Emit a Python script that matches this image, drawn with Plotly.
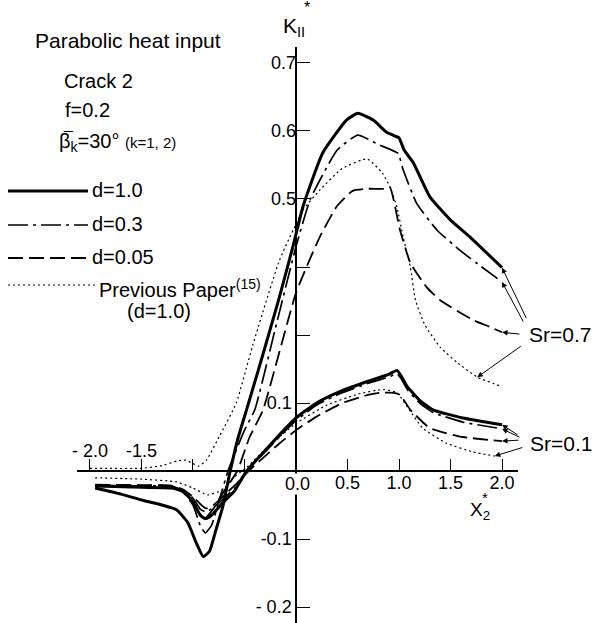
import plotly.graph_objects as go

# ---------------- data ----------------
# Sr = 0.7 family (plotted on the upper, offset scale: labels 0.5/0.6/0.7)
s07_solid_x = [-1.95, -1.7, -1.49, -1.3, -1.16, -1.05, -0.97, -0.9, -0.84, -0.78, -0.71, -0.64, -0.56, -0.47,
               -0.32, -0.17, -0.03, 0.07, 0.26, 0.49, 0.6, 0.75, 0.88, 0.97, 1.0, 1.05, 1.14, 1.3, 1.5, 1.69, 2.0]
s07_solid_y = [0.075, 0.066, 0.057, 0.05, 0.043, 0.024, -0.005, -0.026, -0.018, 0.012, 0.048, 0.099, 0.15, 0.195,
               0.272, 0.351, 0.43, 0.49, 0.568, 0.616, 0.626, 0.616, 0.598, 0.592, 0.59, 0.572, 0.553, 0.503, 0.469, 0.444, 0.399]

s07_dd_x = [-1.95, -1.5, -1.2, -1.1, -1.0, -0.93, -0.88, -0.82, -0.74, -0.66, -0.5, -0.4, -0.2, 0.0, 0.14, 0.4,
            0.6, 0.8, 0.99, 1.04, 1.17, 1.37, 1.62, 2.0]
s07_dd_y = [0.078, 0.078, 0.077, 0.07, 0.05, 0.02, 0.009, 0.02, 0.06, 0.1, 0.16, 0.19, 0.31, 0.43, 0.5, 0.572,
            0.594, 0.58, 0.567, 0.543, 0.494, 0.454, 0.421, 0.378]

s07_dash_x = [-1.95, -1.5, -1.2, -1.05, -0.95, -0.88, -0.8, -0.7, -0.57, -0.45, -0.32, 0.0, 0.23, 0.4, 0.55,
              0.7, 0.85, 0.91, 1.01, 1.11, 1.27, 1.4, 1.72, 1.88, 2.0]
s07_dash_y = [0.079, 0.079, 0.078, 0.065, 0.04, 0.031, 0.045, 0.07, 0.1, 0.15, 0.19, 0.362, 0.444, 0.49, 0.512,
              0.515, 0.515, 0.518, 0.454, 0.406, 0.37, 0.351, 0.322, 0.312, 0.304]

s07_prev_x = [-2.0, -1.5, -1.3, -1.15, -1.07, -1.0, -0.95, -0.87, -0.74, -0.58, -0.42, -0.16, 0.07, 0.23, 0.45,
              0.69, 0.84, 0.91, 0.98, 1.04, 1.11, 1.16, 1.25, 1.4, 1.56, 1.76, 2.0]
s07_prev_y = [0.104, 0.104, 0.108, 0.115, 0.116, 0.111, 0.107, 0.116, 0.152, 0.2, 0.285, 0.41, 0.484, 0.513, 0.545,
              0.559, 0.538, 0.518, 0.488, 0.444, 0.4, 0.351, 0.315, 0.282, 0.26, 0.238, 0.224]

# Sr = 0.1 family (lower scale)
s01_solid_x = [-1.95, -1.5, -1.2, -1.1, -1.0, -0.93, -0.88, -0.82, -0.7, -0.6, -0.48, -0.3, -0.15, 0.0, 0.2,
               0.43, 0.7, 0.9, 0.98, 1.02, 1.08, 1.2, 1.33, 1.62, 2.0]
s01_solid_y = [-0.022, -0.024, -0.025, -0.03, -0.045, -0.065, -0.07, -0.065, -0.045, -0.03, 0.0, 0.03, 0.055,
               0.078, 0.1, 0.117, 0.132, 0.142, 0.148, 0.14, 0.124, 0.104, 0.09, 0.078, 0.068]

s01_dd_x = [-1.95, -1.5, -1.2, -1.1, -1.0, -0.93, -0.88, -0.82, -0.7, -0.6, -0.48, -0.3, -0.15, 0.0, 0.2,
            0.43, 0.7, 0.9, 0.98, 1.02, 1.08, 1.2, 1.33, 1.62, 2.0]
s01_dd_y = [-0.021, -0.022, -0.023, -0.028, -0.04, -0.056, -0.06, -0.056, -0.04, -0.026, 0.0, 0.028, 0.052,
            0.074, 0.097, 0.114, 0.129, 0.138, 0.143, 0.136, 0.12, 0.1, 0.086, 0.072, 0.062]

s01_dash_x = [-1.95, -1.5, -1.2, -1.1, -1.0, -0.92, -0.87, -0.8, -0.7, -0.6, -0.46, -0.3, -0.15, 0.0, 0.2,
              0.45, 0.7, 0.82, 0.95, 1.01, 1.11, 1.3, 1.62, 2.0]
s01_dash_y = [-0.02, -0.021, -0.022, -0.027, -0.038, -0.05, -0.055, -0.05, -0.036, -0.022, 0.0, 0.022, 0.042,
              0.06, 0.08, 0.1, 0.112, 0.115, 0.115, 0.112, 0.09, 0.063, 0.05, 0.044]

s01_prev_x = [-1.95, -1.5, -1.16, -1.0, -0.86, -0.71, -0.61, -0.48, -0.3, 0.0, 0.3, 0.6, 0.85, 0.98, 1.1,
              1.23, 1.46, 1.72, 1.93]
s01_prev_y = [-0.01, -0.012, -0.016, -0.025, -0.035, -0.028, -0.01, 0.005, 0.032, 0.07, 0.097, 0.113, 0.12,
              0.115, 0.09, 0.063, 0.041, 0.028, 0.022]

x_bottom_ticks = [0.5, 1.0, 1.5, 2.0]
x_bottom_labels = ["0.5", "1.0", "1.5", "2.0"]
x_top_ticks = [-2.0, -1.5, -1.0, -0.5, 0.5, 1.0, 1.5, 2.0]
x_top_labels = ["- 2.0", "-1.5", "", "", "", "", "", ""]
y_low_ticks = [-0.2, -0.1, 0.1]
y_low_labels = ["- 0.2", "-0.1", "0.1"]
y_up_ticks = [0.3, 0.4, 0.5, 0.6, 0.7]
y_up_labels = ["", "", "0.5", "0.6", "0.7"]

# ---------------- layout geometry ----------------
W, H = 593, 623
ML, MR, MT, MB = 77, 75, 47, 0
PW, PH = W - ML - MR, H - MT - MB
X_RANGE = [-2.126, 2.155]
Y_RANGE = [-0.2235, 0.6235]
Y2_OFFSET = 0.1
Y2_RANGE = [Y_RANGE[0] + Y2_OFFSET, Y_RANGE[1] + Y2_OFFSET]
FONT = "Liberation Sans"


def pxx(p):
    return (p - ML) / PW


def pxy(p):
    return (H - MB - p) / PH


x_pos = (0 - Y_RANGE[0]) / (Y_RANGE[1] - Y_RANGE[0])
y_pos = (0 - X_RANGE[0]) / (X_RANGE[1] - X_RANGE[0])

SOLID = dict(color="black", width=3)
DASHDOT = dict(color="black", width=1.7, dash="20px,5px,3px,5px")
DASHED = dict(color="black", width=1.8, dash="15px,6px")
DOTTED = dict(color="black", width=1.2, dash="2px,3px")

fig = go.Figure()
series = [
    (s07_solid_x, s07_solid_y, SOLID, "y2"),
    (s07_dd_x, s07_dd_y, DASHDOT, "y2"),
    (s07_dash_x, s07_dash_y, DASHED, "y2"),
    (s07_prev_x, s07_prev_y, DOTTED, "y2"),
    (s01_solid_x, s01_solid_y, SOLID, "y"),
    (s01_dd_x, s01_dd_y, DASHDOT, "y"),
    (s01_dash_x, s01_dash_y, DASHED, "y"),
    (s01_prev_x, s01_prev_y, DOTTED, "y"),
]
for xs, ys, ln, ya in series:
    fig.add_trace(go.Scatter(x=xs, y=ys, mode="lines", line=dict(shape="spline", smoothing=0.45, **ln),
                             yaxis=ya, xaxis="x", showlegend=False, hoverinfo="skip"))

annotations = []


def text(t, xp, yp, size=20, xanchor="left", **kw):
    annotations.append(dict(text=t, x=pxx(xp), y=pxy(yp), xref="paper", yref="paper", showarrow=False,
                            xanchor=xanchor, yanchor="middle", font=dict(size=size, color="black", family=FONT), **kw))


text("Parabolic heat input", 33, 41, 21)
text("Crack 2", 62, 81)
text("f=0.2", 63, 110)
text("β<sub>k</sub>=30° <span style='font-size:15px'>(k=1, 2)</span>", 57, 143)
text("\u00af", 61, 138, 16)
text("d=1.0", 90, 190)
text("d=0.3", 90, 224)
text("d=0.05", 90, 257)
text("Previous Paper<sup>(15)</sup>", 97, 288)
text("(d=1.0)", 125, 311)
text("K<sub>II</sub>", 281, 27, 21)
text("*", 302, 7, 16)
text("X<sub>2</sub>", 468, 511, 19)
text("*", 480, 497, 15)
text("0.0", 297, 484, 18, xanchor="center", bgcolor="white", borderpad=0)
text("Sr=0.7", 527, 334, 21)
text("Sr=0.1", 528, 443, 21)

arrows = [
    (2.0, s07_solid_y[-1], "y2", 25, 52),
    (2.0, s07_dd_y[-1], "y2", 22, 41),
    (2.0, s07_dash_y[-1], "y2", 19, 2),
    (1.76, 0.238, "y2", 45, -32),
    (2.0, s01_solid_y[-1], "y", 17, 11),
    (2.0, s01_dd_y[-1], "y", 19, 9),
    (2.0, s01_dash_y[-1], "y", 18, -1),
    (1.93, s01_prev_y[-1], "y", 29, -9),
]
for xa, ya_, yr, ax, ay in arrows:
    annotations.append(dict(x=xa, y=ya_, xref="x", yref=yr, ax=ax, ay=ay, text="", showarrow=True,
                            arrowhead=2, arrowsize=1.1, arrowwidth=1, arrowcolor="black", standoff=0))

shapes = []
for yp, ln, x1 in [(191, SOLID, 88), (225, DASHDOT, 88), (258, DASHED, 88), (285, DOTTED, 95)]:
    shapes.append(dict(type="line", xref="paper", yref="paper", x0=pxx(8), x1=pxx(x1), y0=pxy(yp), y1=pxy(yp),
                       line=ln))

axis_common = dict(showgrid=False, zeroline=False, automargin=False,
                   tickfont=dict(size=18, color="black", family=FONT))

fig.update_layout(
    width=W, height=H, margin=dict(l=ML, r=MR, t=MT, b=MB),
    paper_bgcolor="white", plot_bgcolor="rgba(0,0,0,0)",
    showlegend=False,
    xaxis=dict(domain=[0, 1], range=X_RANGE, anchor="free", position=x_pos, showline=True, linecolor="black",
               linewidth=1.5, ticks="", tickmode="array", tickvals=x_bottom_ticks, ticktext=x_bottom_labels,
               ticklabelstandoff=-4, **axis_common),
    xaxis2=dict(overlaying="x", range=X_RANGE, side="top", anchor="free", position=x_pos, showline=False,
                ticks="outside", ticklen=12, tickwidth=1.3, tickcolor="black", tickmode="array",
                tickvals=x_top_ticks, ticktext=x_top_labels, ticklabelstandoff=-5, **axis_common),
    yaxis=dict(domain=[0, 1], range=Y_RANGE, anchor="free", position=y_pos, showline=True, linecolor="black",
               linewidth=1.5, ticks="inside", ticklen=13, tickwidth=1.3, tickcolor="black", tickmode="array",
               tickvals=y_low_ticks, ticktext=y_low_labels, **axis_common),
    yaxis2=dict(overlaying="y", range=Y2_RANGE, side="left", anchor="free", position=y_pos, showline=False,
                ticks="inside", ticklen=13, tickwidth=1.3, tickcolor="black", tickmode="array",
                tickvals=y_up_ticks, ticktext=y_up_labels, **axis_common),
    annotations=annotations, shapes=shapes,
)
# a dummy trace so the top x axis is rendered
fig.add_trace(go.Scatter(x=[None], y=[None], xaxis="x2", yaxis="y", showlegend=False))

fig.write_html("out.html")
